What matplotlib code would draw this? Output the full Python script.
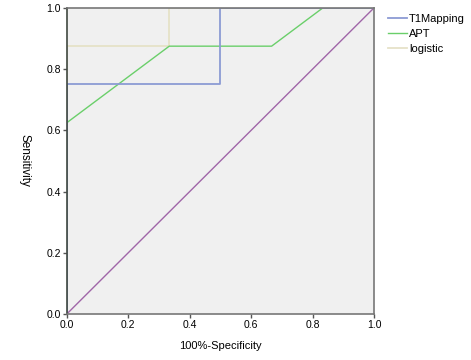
import matplotlib
matplotlib.use("Agg")
import matplotlib.pyplot as plt

# ROC curve points (1 - specificity, sensitivity)
t1_x = [0.0, 0.0, 0.5, 0.5, 1.0]
t1_y = [0.0, 0.75, 0.75, 1.0, 1.0]
apt_x = [0.0, 0.0, 1 / 3, 2 / 3, 5 / 6, 1.0]
apt_y = [0.0, 0.625, 0.875, 0.875, 1.0, 1.0]
log_x = [0.0, 0.0, 1 / 3, 1 / 3, 1.0]
log_y = [0.0, 0.875, 0.875, 1.0, 1.0]
ref_x = [0.0, 1.0]
ref_y = [0.0, 1.0]
ticks = [0.0, 0.2, 0.4, 0.6, 0.8, 1.0]

plt.rcParams['font.family'] = ['Liberation Sans', 'DejaVu Sans']

fig = plt.figure(figsize=(4.71, 3.6), dpi=100)
ax = fig.add_axes([0.142, 0.128, 0.652, 0.85])
ax.set_facecolor('#F0F0F0')

ax.plot(ref_x, ref_y, color='#A066A8', lw=1.0, zorder=2)
ax.plot(log_x, log_y, color='#E6E2C8', lw=1.3, label='logistic', zorder=3)
ax.plot(apt_x, apt_y, color='#6ACF6A', lw=1.0, label='APT', zorder=4)
ax.plot(t1_x, t1_y, color='#8C9BD4', lw=1.3, label='T1Mapping', zorder=5)

ax.set_xlim(0, 1)
ax.set_ylim(0, 1)
ax.set_xticks(ticks)
ax.set_yticks(ticks)
ax.set_xticklabels([f'{t:.1f}' for t in ticks])
ax.set_yticklabels([f'{t:.1f}' for t in ticks])
ax.tick_params(labelsize=7.5, length=3, width=1, color='#555555', pad=1.5)

for s in ax.spines.values():
    s.set_color('#777777')
    s.set_linewidth(1.2)
    s.set_zorder(10)
ax.spines['left'].set_color('#404840')

ax.set_xlabel('100%-Specificity', fontsize=8, labelpad=8)
ax.set_ylabel('Sensitivity', fontsize=8.5, rotation=-90, labelpad=20)

handles, labels = ax.get_legend_handles_labels()
order = [2, 1, 0]
ax.legend([handles[i] for i in order], [labels[i] for i in order],
          loc='upper left', bbox_to_anchor=(1.032, 0.995), frameon=False,
          fontsize=8, handlelength=1.7, handletextpad=0.15,
          labelspacing=0.45, borderaxespad=0)

fig.savefig('out.png', dpi=100)
